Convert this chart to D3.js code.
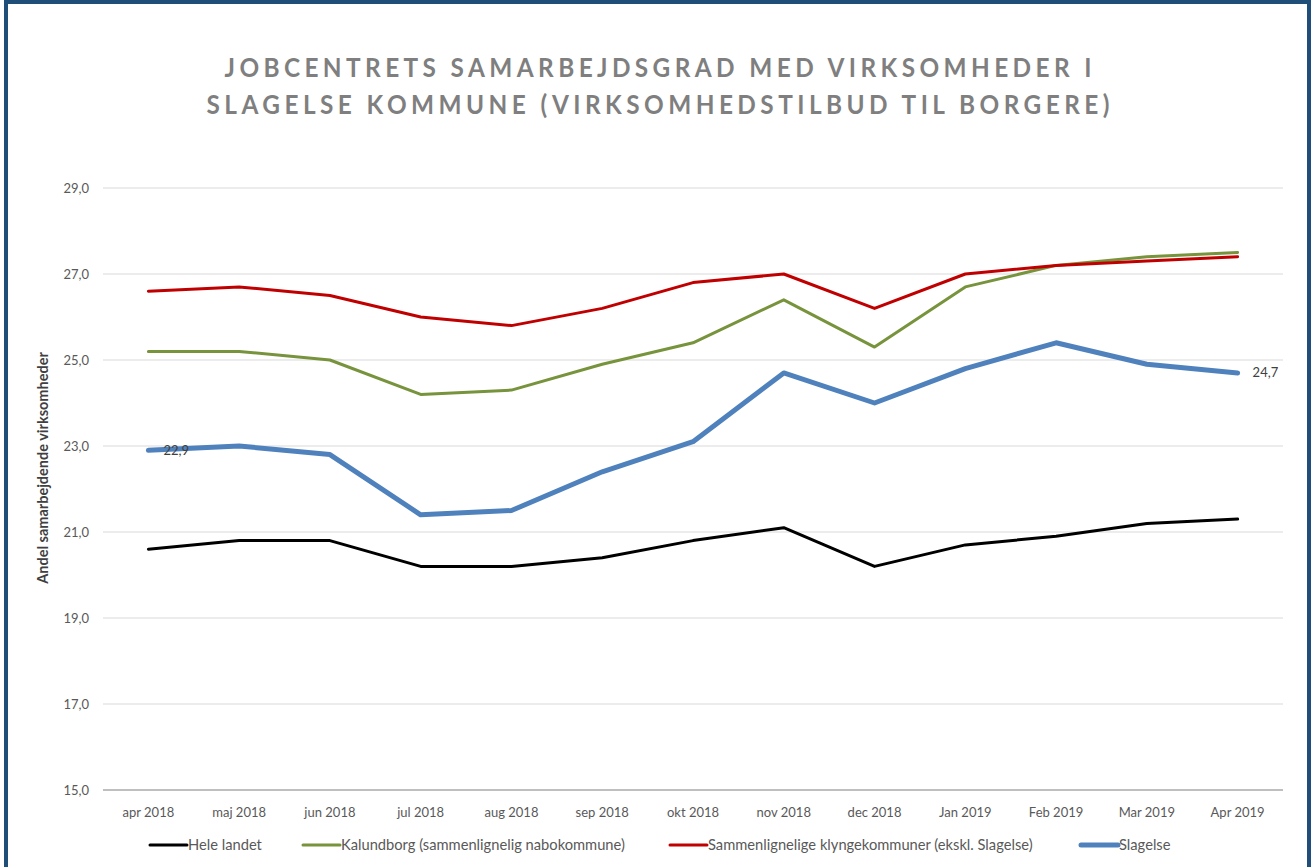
<!DOCTYPE html>
<html>
<head>
<meta charset="utf-8">
<script src="https://cdn.jsdelivr.net/npm/d3@7"></script>
<style>
  body { margin: 0; background: #fff; }
  svg { display: block; font-family: Lato, "Open Sans", sans-serif; }
</style>
</head>
<body>
<div id="chart"></div>
<script>
const months = ["apr 2018", "maj 2018", "jun 2018", "jul 2018", "aug 2018", "sep 2018", "okt 2018",
  "nov 2018", "dec 2018", "Jan 2019", "Feb 2019", "Mar 2019", "Apr 2019"];

const heleLandet = [20.6, 20.8, 20.8, 20.2, 20.2, 20.4, 20.8, 21.1, 20.2, 20.7, 20.9, 21.2, 21.3];
const kalundborg = [25.2, 25.2, 25.0, 24.2, 24.3, 24.9, 25.4, 26.4, 25.3, 26.7, 27.2, 27.4, 27.5];
const klynge = [26.6, 26.7, 26.5, 26.0, 25.8, 26.2, 26.8, 27.0, 26.2, 27.0, 27.2, 27.3, 27.4];
const slagelse = [22.9, 23.0, 22.8, 21.4, 21.5, 22.4, 23.1, 24.7, 24.0, 24.8, 25.4, 24.9, 24.7];

const yTicks = [15, 17, 19, 21, 23, 25, 27, 29];

const series = [
  { name: "Hele landet", values: heleLandet, color: "#000000", width: 3 },
  { name: "Kalundborg (sammenlignelig nabokommune)", values: kalundborg, color: "#77933c", width: 3 },
  { name: "Sammenlignelige klyngekommuner (ekskl. Slagelse)", values: klynge, color: "#c00000", width: 3 },
  { name: "Slagelse", values: slagelse, color: "#4f81bd", width: 5 }
];

const W = 1312, H = 867;
const margin = { top: 188, right: 29, bottom: 77, left: 103 };
const width = W - margin.left - margin.right;
const height = H - margin.top - margin.bottom;

const svg = d3.select("#chart").append("svg")
  .attr("width", W)
  .attr("height", H);

// frame
svg.append("rect")
  .attr("x", 6).attr("y", 2)
  .attr("width", W - 9).attr("height", H + 20)
  .attr("fill", "none")
  .attr("stroke", "#1f4e79")
  .attr("stroke-width", 4);

// title (condensed glyphs, wide spacing)
const titleLines = ["JOBCENTRETS SAMARBEJDSGRAD MED VIRKSOMHEDER I",
  "SLAGELSE KOMMUNE (VIRKSOMHEDSTILBUD TIL BORGERE)"];
const titleWidths = [867, 903];
const squeeze = 0.92;
svg.selectAll(".title")
  .data(titleLines)
  .join("g")
  .attr("class", "title")
  .attr("transform", (d, i) => `translate(658,${77 + i * 36.5}) scale(${squeeze},1)`)
  .append("text")
  .attr("x", (d, i) => -titleWidths[i] / 2 / squeeze)
  .attr("textLength", (d, i) => titleWidths[i] / squeeze)
  .attr("lengthAdjust", "spacing")
  .attr("fill", "#7f7f7f")
  .attr("font-size", 26.5)
  .attr("font-weight", "bold")
  .text(d => d);

const g = svg.append("g")
  .attr("transform", `translate(${margin.left},${margin.top})`);

const x = d3.scalePoint().domain(months).range([0, width]).padding(0.5);
const y = d3.scaleLinear().domain([15, 29]).range([height, 0]);

// grid
g.selectAll(".grid")
  .data(yTicks.filter(d => d !== 15))
  .join("line")
  .attr("class", "grid")
  .attr("x1", 0).attr("x2", width)
  .attr("y1", d => y(d)).attr("y2", d => y(d))
  .attr("stroke", "#d9d9d9")
  .attr("stroke-width", 1);

g.append("line")
  .attr("x1", 0).attr("x2", width)
  .attr("y1", y(15)).attr("y2", y(15))
  .attr("stroke", "#bfbfbf")
  .attr("stroke-width", 2);

// y tick labels
const fmt = d => d3.format(".1f")(d).replace(".", ",");
g.selectAll(".ytick")
  .data(yTicks)
  .join("text")
  .attr("class", "ytick")
  .attr("x", -14)
  .attr("y", d => y(d))
  .attr("dy", "0.35em")
  .attr("text-anchor", "end")
  .attr("fill", "#595959")
  .attr("font-size", 13)
  .text(fmt);

// x labels
g.selectAll(".xtick")
  .data(months)
  .join("text")
  .attr("class", "xtick")
  .attr("x", d => x(d))
  .attr("y", height + 22)
  .attr("dy", "0.35em")
  .attr("text-anchor", "middle")
  .attr("fill", "#595959")
  .attr("font-size", 13)
  .text(d => d);

// y axis title
svg.append("text")
  .attr("transform", "translate(48,468) rotate(-90)")
  .attr("text-anchor", "middle")
  .attr("fill", "#404040")
  .attr("font-size", 14.5)
  .attr("font-weight", "bold")
  .text("Andel samarbejdende virksomheder");

// lines
const line = d3.line()
  .x((d, i) => x(months[i]))
  .y(d => y(d));

g.selectAll(".series")
  .data(series)
  .join("path")
  .attr("class", "series")
  .attr("d", d => line(d.values))
  .attr("fill", "none")
  .attr("stroke", d => d.color)
  .attr("stroke-width", d => d.width)
  .attr("stroke-linejoin", "round")
  .attr("stroke-linecap", "round");

// data labels for Slagelse
const labelIdx = [0, months.length - 1];
g.selectAll(".dlabel")
  .data(labelIdx)
  .join("text")
  .attr("class", "dlabel")
  .attr("x", i => x(months[i]) + 15)
  .attr("y", i => y(slagelse[i]))
  .attr("dy", "0.35em")
  .attr("fill", "#404040")
  .attr("font-size", 13)
  .text(i => fmt(slagelse[i]));

// legend
const legendX = [150, 303, 670, 1081];
const leg = svg.selectAll(".legend")
  .data(series)
  .join("g")
  .attr("class", "legend")
  .attr("transform", (d, i) => `translate(${legendX[i]},845)`);

leg.append("line")
  .attr("x1", 0).attr("x2", 37)
  .attr("stroke", d => d.color)
  .attr("stroke-width", d => d.width)
  .attr("stroke-linecap", "round");

leg.append("text")
  .attr("x", 38)
  .attr("dy", "0.35em")
  .attr("fill", "#595959")
  .attr("font-size", 14.7)
  .text(d => d.name);
</script>
</body>
</html>
